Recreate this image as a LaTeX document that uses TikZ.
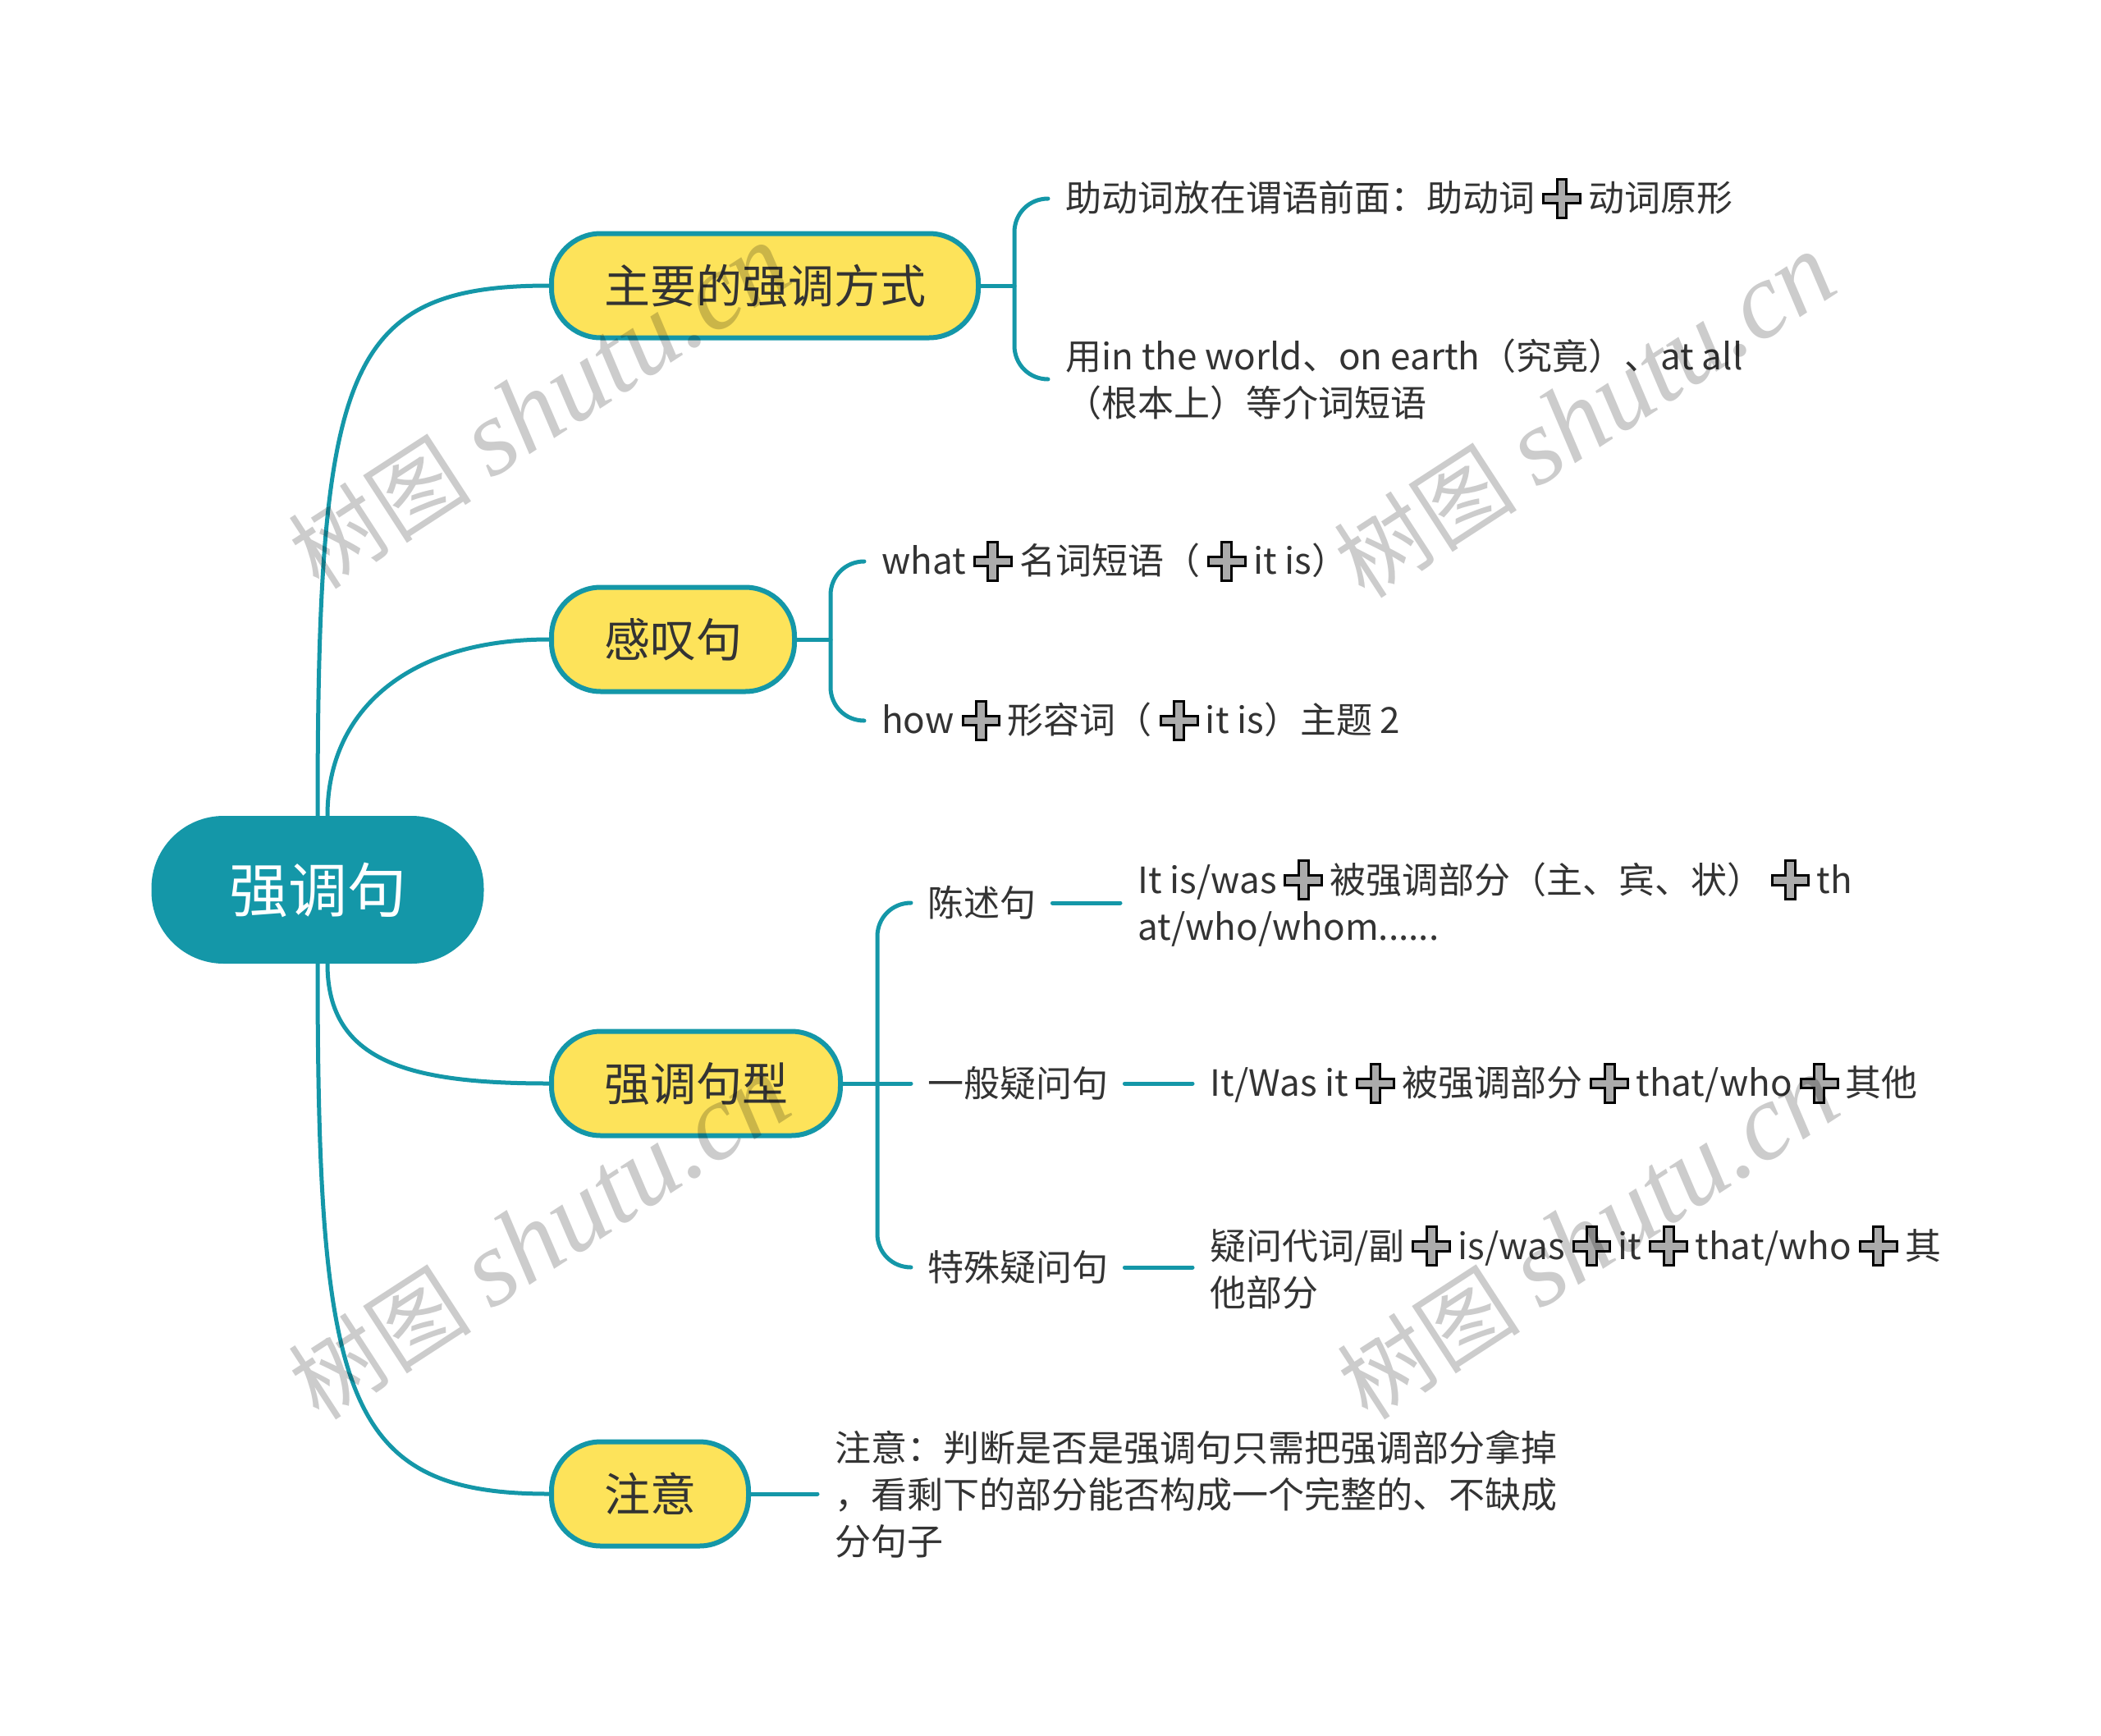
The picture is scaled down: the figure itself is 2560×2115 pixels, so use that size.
\documentclass[tikz,border=0pt]{standalone}
\usepackage{fontspec}
\setmainfont{Noto Sans CJK SC}
\newfontfamily\wmserif{Liberation Serif}
\usetikzlibrary{calc}
\definecolor{teal1}{HTML}{1497A8}
\definecolor{pillyellow}{HTML}{FDE35A}
\definecolor{txt}{HTML}{333333}
\newcommand{\pls}{\tikz[x=1em,y=1em,baseline=0pt,line width=3pt,line join=miter]{\path (0,0) (1.48,0);
  \filldraw[draw=black,fill=black!33] (0.235,0.225) -- (0.61,0.225) -- (0.61,-0.175) -- (0.88,-0.175) -- (0.88,0.225) -- (1.255,0.225) -- (1.255,0.495) -- (0.88,0.495) -- (0.88,0.895) -- (0.61,0.895) -- (0.61,0.495) -- (0.235,0.495) -- cycle;}}
\begin{document}
\begin{tikzpicture}[x=1pt,y=-1pt,
  conn/.style={draw=teal1,line width=5pt,line cap=round},
  rootbox/.style={fill=teal1,text=white,rounded corners=88pt,minimum width=405pt,minimum height=180pt,font=\fontsize{72}{80}\selectfont},
  pill/.style={draw=teal1,line width=6pt,fill=pillyellow,rounded corners=60pt,minimum height=127pt,inner xsep=64pt,inner ysep=0pt,anchor=west,font=\fontsize{56}{66}\selectfont,text=txt},
  leaf/.style={anchor=west,align=left,inner xsep=21pt,inner ysep=4pt,font=\fontsize{44}{57}\selectfont,text=txt},
  wm/.style={rotate=33,text=black,text opacity=0.2,inner sep=0pt}]
\fill[white] (0,0) rectangle (2560,2115);
\useasboundingbox (0,0) rectangle (2560,2115);

% nodes
\node[rootbox] (root) at (387,1084) {强调句};
\node[pill] (b1) at (669,348) {主要的强调方式};
\node[pill] (b2) at (669,779) {感叹句};
\node[pill] (b3) at (669,1320) {强调句型};
\node[pill] (b4) at (669,1820) {注意};

\node[leaf] (l11) at (1277,242) {助动词放在谓语前面：助动词\pls 动词原形};
\node[leaf] (l12) at (1277,462) {用in the world、on earth（究竟）、at all\\（根本上）等介词短语};
\node[leaf] (l21) at (1053,684) {what\pls 名词短语（\pls it is）};
\node[leaf] (l22) at (1053,878) {how\pls 形容词（\pls it is）主题 2};

\node[leaf,inner xsep=20pt] (s1) at (1110,1100) {陈述句};
\node[leaf,inner xsep=20pt] (s2) at (1110,1320) {一般疑问句};
\node[leaf,inner xsep=20pt] (s3) at (1110,1544) {特殊疑问句};
\node[leaf] (t1) at (1365,1100) {It is/was\pls 被强调部分（主、宾、状）\pls th\\at/who/whom......};
\node[leaf] (t2) at (1453,1320) {It/Was it\pls 被强调部分\pls that/who\pls 其他};
\node[leaf] (t3) at (1453,1544) {疑问代词/副\pls is/was\pls it\pls that/who\pls 其\\他部分};

\node[leaf] (l4) at (996,1820) {注意：判断是否是强调句只需把强调部分拿掉\\，看剩下的部分能否构成一个完整的、不缺成\\分句子};

% root connectors
\draw[conn] (root.north) .. controls +(0,-544) and +(-250,0) .. (b1.west);
\draw[conn] ($(root.north)+(12,0)$) .. controls +(0,-130) and +(-170,0) .. (b2.west);
\draw[conn] ($(root.south)+(12,0)$) .. controls +(0,120) and +(-170,0) .. (b3.west);
\draw[conn] (root.south) .. controls +(0,530) and +(-250,0) .. (b4.west);

% branch 1 bracket
\draw[conn] (b1.east) -- ++(41,0) coordinate (k1);
\draw[conn] (l11.west) .. controls +(-23,0) and +(0,-23) .. ($(k1|-l11.west)+(0,41)$) -- ($(k1|-l12.west)+(0,-41)$) .. controls +(0,23) and +(-23,0) .. (l12.west);
% branch 2 bracket
\draw[conn] (b2.east) -- ++(41,0) coordinate (k2);
\draw[conn] (l21.west) .. controls +(-23,0) and +(0,-23) .. ($(k2|-l21.west)+(0,41)$) -- ($(k2|-l22.west)+(0,-41)$) .. controls +(0,23) and +(-23,0) .. (l22.west);
% branch 3 bracket
\draw[conn] (b3.east) -- (s2.west);
\coordinate (k3) at ($(b3.east)+(42,0)$);
\draw[conn] (s1.west) .. controls +(-23,0) and +(0,-23) .. ($(k3|-s1.west)+(0,41)$) -- ($(k3|-s3.west)+(0,-41)$) .. controls +(0,23) and +(-23,0) .. (s3.west);
\draw[conn] (s1.east) -- (t1.west);
\draw[conn] (s2.east) -- (t2.west);
\draw[conn] (s3.east) -- (t3.west);
% branch 4
\draw[conn] (b4.east) -- (l4.west);

% watermarks
\node[wm] (w1) at (657,496) {\fontsize{112}{112}\selectfont 树图 {\wmserif\itshape\fontsize{132}{132}\selectfont shutu.cn}};
\node[wm] (w2) at (1931,507) {\fontsize{112}{112}\selectfont 树图 {\wmserif\itshape\fontsize{132}{132}\selectfont shutu.cn}};
\node[wm] (w3) at (657,1508) {\fontsize{112}{112}\selectfont 树图 {\wmserif\itshape\fontsize{132}{132}\selectfont shutu.cn}};
\node[wm] (w4) at (1935,1508) {\fontsize{112}{112}\selectfont 树图 {\wmserif\itshape\fontsize{132}{132}\selectfont shutu.cn}};
\end{tikzpicture}
\end{document}
